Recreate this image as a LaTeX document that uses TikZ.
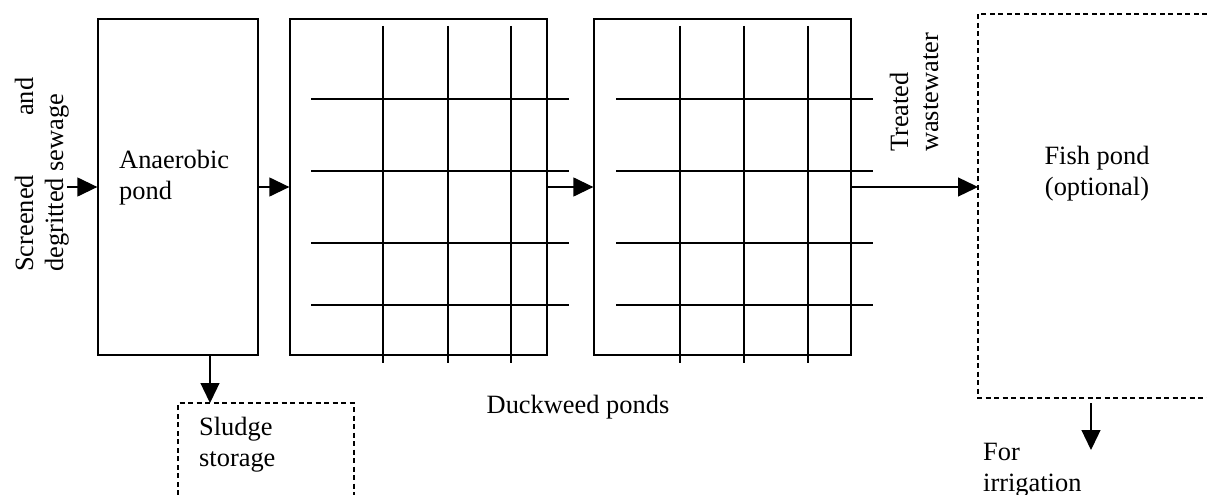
\documentclass[tikz,border=0pt]{standalone}
\usepackage{fontspec}
\setmainfont{Liberation Serif}
\usetikzlibrary{arrows.meta}
\begin{document}
\begin{tikzpicture}[x=1pt,y=-1pt,
  every node/.style={font=\fontsize{26.4}{30.5}\selectfont, inner sep=0pt},
  pond/.style={draw, line width=1.3pt, minimum width=#1, minimum height=336pt},
  arr/.style={line width=1.3pt, -{Triangle[length=20pt,width=19pt]}},
  grid/.style={line width=1.3pt},
  dbox/.style={line width=1.3pt, dash pattern=on 5pt off 3.5pt},
  lbl/.style={align=left, anchor=base west}]
\useasboundingbox (0,0) rectangle (1207,495);
% ponds
\node[pond=160pt] (anaer) at (178,187) {};
\node[pond=257pt] (duck1) at (418.5,187) {};
\node[pond=257pt] (duck2) at (722.5,187) {};
% grids
\foreach \xa in {383,448,511} \draw[grid] (\xa,26) -- (\xa,363);
\foreach \ya in {99,171,243,305} \draw[grid] (311,\ya) -- (569,\ya);
\foreach \xa in {680,744,808} \draw[grid] (\xa,26) -- (\xa,363);
\foreach \ya in {99,171,243,305} \draw[grid] (616,\ya) -- (873,\ya);
% labels (base anchor = last line)
\node[lbl] (anaertxt) at (119,199) {Anaerobic\\pond};
\node[anchor=base] (dwtxt) at (578,413) {Duckweed ponds};
\node[rotate=90, anchor=base west] (in1) at (33,272) {\makebox[194pt][s]{Screened\hfill and}};
\node[rotate=90, anchor=base west] (in2) at (63,272) {degritted sewage};
\node[rotate=90, anchor=base west] (tw1) at (908,152) {Treated};
\node[rotate=90, anchor=base west] (tw2) at (938,152) {wastewater};
% fish pond
\draw[dbox] (1207,14) -- (978,14) -- (978,398) -- (1207,398);
\coordinate (fishL) at (978,187);
\node[align=center, anchor=base] (fishtxt) at (1097,195) {Fish pond\\(optional)};
% sludge storage
\draw[dbox] (178,495) -- (178,403) -- (354,403) -- (354,495);
\coordinate (sludgeTop) at (210,403);
\node[lbl] (sludgetxt) at (199,466) {Sludge\\storage};
% irrigation
\coordinate (irrA) at (1091,403);
\coordinate (irrB) at (1091,450);
\node[lbl] (irrtxt) at (983,491) {For\\irrigation};
% arrows
\coordinate (inStart) at (67,187);
\draw[arr] (inStart) -- (anaer.west);
\draw[arr] (anaer.east) -- (duck1.west);
\draw[arr] (duck1.east) -- (duck2.west);
\draw[arr] (duck2.east) -- (fishL);
\draw[arr] (anaer.south -| sludgeTop) -- (sludgeTop);
\draw[arr] (irrA) -- (irrB);
\end{tikzpicture}
\end{document}
